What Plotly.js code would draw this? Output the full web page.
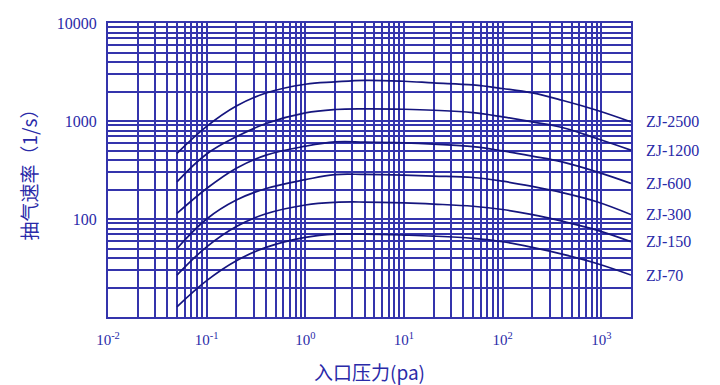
<!DOCTYPE html>
<html>
<head>
<meta charset="utf-8">
<script src="https://cdn.plot.ly/plotly-3.0.1.min.js"></script>
<style>html,body{margin:0;padding:0;background:#fff}#chart{width:720px;height:385px}</style>
</head>
<body>
<div id="chart"></div>
<script>
// Inlet pressure (pa)
const pressure = [0.05, 0.1, 0.2, 0.4, 1, 2, 4, 10, 20, 50, 100, 200, 400, 900, 2000];
// Pumping speed (l/s) per model
const zj2500 = [467, 880, 1420, 1930, 2372, 2504, 2600, 2546, 2447, 2333, 2145, 1933, 1629, 1288, 980];
const zj1200 = [239, 460, 690, 943, 1210, 1310, 1330, 1318, 1288, 1216, 1102, 980, 859, 663, 504];
const zj600  = [114, 205, 330, 448, 553, 612, 610, 598, 580, 547, 495, 438, 383, 303, 231];
const zj300  = [50, 100, 156, 205, 252, 284, 285, 280, 274, 265, 243, 215, 186, 150, 111];
const zj150  = [26.8, 52, 84, 113, 139, 148, 149, 146, 142, 135, 125, 111, 95, 77, 58.6];
const zj70   = [12.7, 23.5, 37.5, 51.3, 64.9, 70.1, 70, 68.5, 66.9, 63.4, 58.6, 51.3, 43.8, 35.2, 26.8];
const seriesNames = ["ZJ-2500", "ZJ-1200", "ZJ-600", "ZJ-300", "ZJ-150", "ZJ-70"];
const seriesValues = [zj2500, zj1200, zj600, zj300, zj150, zj70];

const xTickVals = [0.01, 0.1, 1, 10, 100, 1000];
const xTickText = ["10<sup>-2</sup>", "10<sup>-1</sup>", "10<sup>0</sup>", "10<sup>1</sup>", "10<sup>2</sup>", "10<sup>3</sup>"];
const yTickVals = [100, 1000, 10000];
const yTickText = ["100", "1000", "10000"];

const gridColor = "#3434ac";
const textColor = "#2a2aa8";
const lineColor = "#15157e";

function minorVals(fromExp, toExp) {
  const v = [];
  for (let e = fromExp; e <= toExp; e++) {
    for (let d = 2; d <= 9; d++) v.push(d * Math.pow(10, e));
  }
  return v;
}

const traces = seriesValues.map((vals, i) => ({
  x: pressure, y: vals, type: "scatter", mode: "lines",
  name: seriesNames[i], showlegend: false,
  line: {color: lineColor, width: 1.7, shape: "spline", smoothing: 1.1},
  hoverinfo: "skip"
}));

const annotations = seriesValues.map((vals, i) => ({
  xref: "paper", yref: "y", x: 1, y: Math.log10(vals[vals.length - 1]),
  xanchor: "left", yanchor: "middle", xshift: 13, showarrow: false,
  text: seriesNames[i],
  font: {family: "Liberation Serif, serif", size: 16, color: textColor}
}));

const layout = {
  width: 720, height: 385,
  margin: {l: 108, r: 89, t: 23, b: 68},
  paper_bgcolor: "#fff", plot_bgcolor: "#fff",
  showlegend: false,
  xaxis: {
    type: "log", range: [-2, Math.log10(2000)],
    tickmode: "array", tickvals: xTickVals, ticktext: xTickText,
    showgrid: true, gridcolor: gridColor, gridwidth: 2,
    showline: true, linecolor: gridColor, linewidth: 2, mirror: true,
    ticks: "", zeroline: false, ticklabelstandoff: 8,
    tickfont: {family: "Liberation Serif, serif", size: 15, color: textColor},
    minor: {tickmode: "array", tickvals: minorVals(-2, 3), showgrid: true, gridcolor: gridColor, gridwidth: 2, ticks: ""},
    title: {text: "入口压力(pa)", standoff: 22,
      font: {family: "Noto Sans CJK SC, sans-serif", size: 19, color: textColor}}
  },
  yaxis: {
    type: "log", range: [1, 4],
    tickmode: "array", tickvals: yTickVals, ticktext: yTickText,
    showgrid: true, gridcolor: gridColor, gridwidth: 2,
    showline: true, linecolor: gridColor, linewidth: 2, mirror: true,
    ticks: "", zeroline: false, ticklabelstandoff: 6,
    tickfont: {family: "Liberation Serif, serif", size: 16, color: textColor},
    minor: {tickmode: "array", tickvals: minorVals(1, 3), showgrid: true, gridcolor: gridColor, gridwidth: 2, ticks: ""},
    title: {text: "抽气速率（1/s）", standoff: 14,
      font: {family: "Noto Sans CJK SC, sans-serif", size: 19, color: textColor}}
  },
  annotations: annotations
};

Plotly.newPlot("chart", traces, layout, {staticPlot: true, displayModeBar: false});
</script>
</body>
</html>
